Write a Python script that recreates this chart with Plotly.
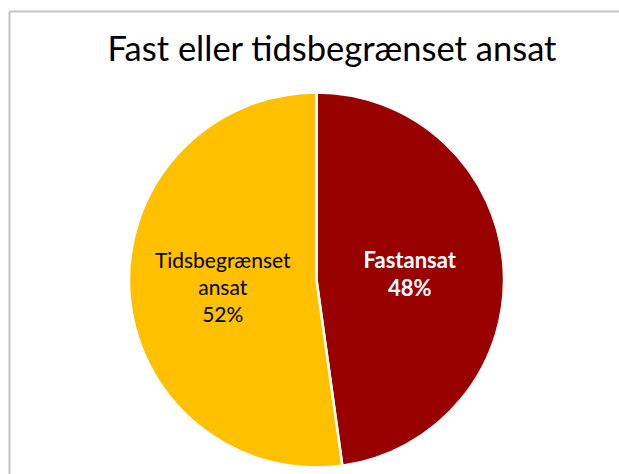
import plotly.graph_objects as go

labels = ["Fastansat", "Tidsbegrænset ansat"]
values = [47.8, 52.2]
display_labels = ["<b>Fastansat</b>", "Tidsbegrænset<br>ansat"]
colors = ["#990000", "#FFC000"]
text_colors = ["#FFFFFF", "#000000"]

W, H = 619, 474
cx, cy, r = 316.5, 280.0, 187.5

fig = go.Figure(go.Pie(
    labels=labels,
    values=values,
    text=display_labels,
    sort=False,
    direction="clockwise",
    rotation=0,
    marker=dict(colors=colors, line=dict(color="white", width=2.5)),
    textinfo="text+percent",
    texttemplate=["%{text}<br><b>%{percent:.0%}</b>", "%{text}<br>%{percent:.0%}"],
    textposition="inside",
    insidetextorientation="horizontal",
    insidetextfont=dict(family="Lato, Carlito, Calibri, sans-serif", size=[22, 21], color=text_colors),
    showlegend=False,
    hoverinfo="label+percent",
    domain=dict(x=[(cx - r) / W, (cx + r) / W], y=[(H - cy - r) / H, (H - cy + r) / H]),
))

border = dict(color="#C4C4C4", width=2)
fig.update_layout(
    width=W, height=H,
    margin=dict(l=0, r=0, t=0, b=0),
    paper_bgcolor="white",
    plot_bgcolor="white",
    title=dict(
        text="Fast eller tidsbegrænset ansat",
        font=dict(family="Lato, Carlito, Calibri, sans-serif", size=34.5, color="#000000"),
        x=332 / W, xanchor="center", xref="paper",
        y=1 - 49 / H, yanchor="middle", yref="container",
    ),
    shapes=[
        dict(type="line", xref="paper", yref="paper",
             x0=9.5 / W, x1=1.0, y0=1 - 11.5 / H, y1=1 - 11.5 / H,
             line=border, layer="below"),
        dict(type="line", xref="paper", yref="paper",
             x0=9.5 / W, x1=9.5 / W, y0=0.0, y1=1 - 11.5 / H,
             line=border, layer="below"),
    ],
)

fig.write_html(
    "out.html",
    config={"displayModeBar": False},
    post_script=(
        "document.documentElement.style.margin='0';"
        "document.documentElement.style.overflow='hidden';"
        "document.body.style.margin='0';document.body.style.overflow='hidden';"
    ),
)
